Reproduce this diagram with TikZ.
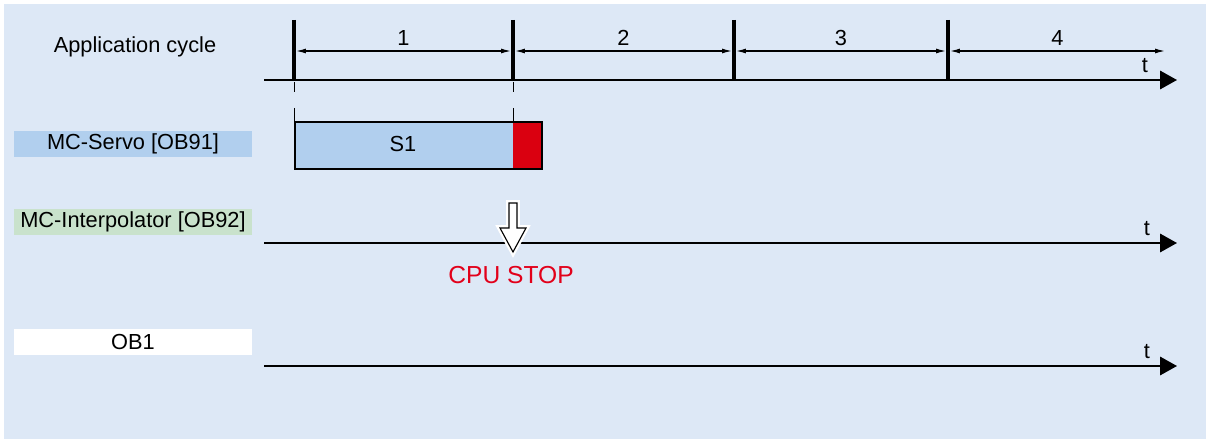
\documentclass[tikz,border=0pt]{standalone}
\usepackage{fontspec}
\setmainfont{Liberation Sans}
\usetikzlibrary{arrows.meta,calc,positioning}
\definecolor{bgblue}{HTML}{DDE8F6}
\definecolor{servoblue}{HTML}{B1CFEE}
\definecolor{interpgreen}{HTML}{C9E2CC}
\definecolor{stopred}{HTML}{DA0010}
\definecolor{textred}{HTML}{E2001A}
\tikzset{
  lblbox/.style={minimum width=5.95cm,minimum height=0.65cm,inner sep=0pt,font=\fontsize{15.5}{18}\selectfont},
  txt/.style={inner sep=0pt,font=\fontsize{15.5}{18}\selectfont},
  timeaxis/.style={line width=1.5pt,-{Triangle[length=12pt,width=13pt]}},
  cyclebar/.style={line width=2.2pt},
  dimline/.style={line width=0.8pt,{Latex[length=7pt,width=3.5pt]}-{Latex[length=7pt,width=3.5pt]}},
  thintick/.style={line width=0.5pt}
}

\begin{document}
\begin{tikzpicture}[x={(0.025cm,0)},y={(0,-0.025cm)}]
  \useasboundingbox (0,0) rectangle (1206,439);
  \fill[bgblue] (4,4) rectangle (1206,439);

  % labels on the left
  \node[txt] (appcycle) at (135,47) {Application cycle};
  \node[lblbox,fill=servoblue] (servo) at (133,144) {MC-Servo [OB91]};
  \node[lblbox,fill=interpgreen] (interp) at (133,222) {MC-Interpolator [OB92]};
  \node[lblbox,fill=white] (ob1) at (133,342) {OB1};

  % application cycle axis
  \coordinate (ax0) at (264,80);
  \coordinate (ax1) at (1177,80);
  \draw[timeaxis] (ax0) -- (ax1);
  \node[txt] (tcycle) at (1145,66) {t};
  \foreach \x [count=\i] in {294,513,734,948} {
    \coordinate (bartop\i) at (\x,20);
    \coordinate (barbot\i) at (\x,81);
    \draw[cyclebar] (bartop\i) -- (barbot\i);
  }
  \coordinate (bartop5) at (1167,20);
  \foreach \i/\j [count=\k] in {1/2,2/3,3/4,4/5} {
    \draw[dimline,shorten <=1.5pt,shorten >=1.5pt] ($(bartop\i)+(0,31)$) -- ($(bartop\j)+(0,31)$)
      node[midway,above=3.5pt,txt] (num\k) {\k};
  }

  % servo cycle S1
  \draw[thintick] (294,82) -- (294,92) (294,108) -- (294,121);
  \draw[thintick] (513,82) -- (513,92) (513,108) -- (513,121);
  \fill[servoblue] (294,121) rectangle (513,168);
  \fill[stopred] (513,121) rectangle (541,168);
  \node[draw,line width=1.5pt,minimum width=6.175cm,minimum height=1.175cm,inner sep=0pt,anchor=north west] (s1box) at (294,121) {};
  \node[txt] (s1) at (403,144) {S1};

  % interpolator axis
  \coordinate (ip0) at (264,243);
  \coordinate (ip1) at (1177,243);
  \draw[timeaxis] (ip0) -- (ip1);
  \node[txt] (tinterp) at (1147,229) {t};

  % CPU stop marker
  \draw[line width=0.8pt,fill=white,preaction={draw=white,line width=4pt}]
    (509,203) -- (517,203) -- (517,228) -- (526,228) -- (513,252) -- (500,228) -- (509,228) -- cycle;
  \coordinate (stoptip) at (513,252);
  \node[txt,text=textred,font=\fontsize{17.5}{20}\selectfont,below=10pt of stoptip,xshift=-0.05cm] (cpustop) {CPU STOP};

  % OB1 axis
  \coordinate (ob0) at (264,366);
  \coordinate (ob1end) at (1177,366);
  \draw[timeaxis] (ob0) -- (ob1end);
  \node[txt] (tob) at (1147,352) {t};
\end{tikzpicture}
\end{document}
